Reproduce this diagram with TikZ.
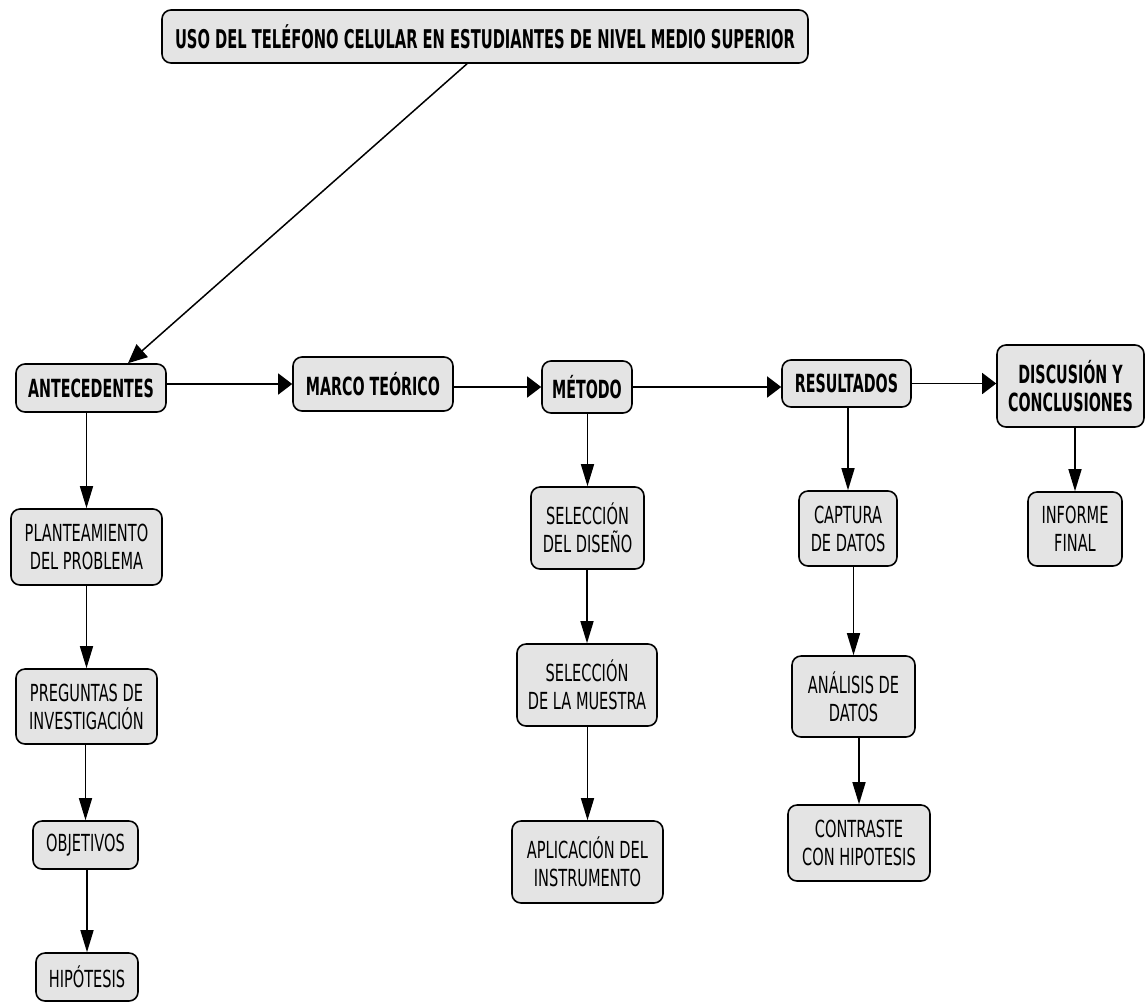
\documentclass[tikz,border=0pt]{standalone}
\usepackage{fontspec}
\setmainfont{DejaVu Sans}
\newfontfamily\regf{DejaVu Sans}[FakeStretch=0.62]
\newfontfamily\boldf{DejaVu Sans}[FakeStretch=0.57]
\usetikzlibrary{arrows.meta}
\definecolor{boxgray}{HTML}{E4E4E4}
\tikzset{
  box/.style={draw=black, line width=1.6pt, fill=boxgray, rounded corners=9pt,
    inner sep=0pt, align=center, text=black},
  reg/.style={box, font=\regf\fontsize{23.5}{28}\selectfont},
  bld/.style={box, font=\boldf\bfseries\fontsize{25}{28}\selectfont},
  conn/.style={line width=1.5pt, draw=black},
  varr/.style={conn, -{Triangle[length=22pt,width=13pt]}},
  harr/.style={conn, -{Triangle[length=14pt,width=21pt]}},
  darr/.style={conn, -{Triangle[length=19pt,width=17pt]}}
}
\begin{document}
\begin{tikzpicture}[x=1pt,y=-1pt]
\useasboundingbox[fill=white] (0,0) rectangle (1145,1005);

% top level
\node[bld, minimum width=646pt, minimum height=53pt, font=\boldf\bfseries\fontsize{25.8}{28}\selectfont] (title) at (485,36.5) {USO DEL TELÉFONO CELULAR EN ESTUDIANTES DE NIVEL MEDIO SUPERIOR};
\node[bld, minimum width=150pt, minimum height=48pt] (ant) at (91,388) {ANTECEDENTES};
\node[bld, minimum width=160pt, minimum height=54pt] (marco) at (373,384) {MARCO TEÓRICO};
\node[bld, minimum width=90pt, minimum height=52pt] (met) at (587,387) {MÉTODO};
\node[bld, minimum width=129pt, minimum height=47pt] (res) at (846.5,383.5) {RESULTADOS};
\node[bld, minimum width=147pt, minimum height=82pt] (disc) at (1070.5,386) {DISCUSIÓN Y\\CONCLUSIONES};

% antecedentes column
\node[reg, minimum width=151pt, minimum height=76pt] (plan) at (86.5,547) {PLANTEAMIENTO\\DEL PROBLEMA};
\node[reg, minimum width=141pt, minimum height=75pt] (preg) at (86.5,706.5) {PREGUNTAS DE\\INVESTIGACIÓN};
\node[reg, minimum width=105pt, minimum height=48pt] (obj) at (85.5,845) {OBJETIVOS};
\node[reg, minimum width=102pt, minimum height=48pt] (hip) at (87,977) {HIPÓTESIS};

% metodo column
\node[reg, minimum width=113pt, minimum height=82pt] (sd) at (587.5,528) {SELECCIÓN\\DEL DISEÑO};
\node[reg, minimum width=140pt, minimum height=82pt] (sm) at (587,685) {SELECCIÓN\\DE LA MUESTRA};
\node[reg, minimum width=151pt, minimum height=82pt] (ap) at (587.5,862) {APLICACIÓN DEL\\INSTRUMENTO};

% resultados column
\node[reg, minimum width=98pt, minimum height=75pt] (cap) at (848,528.5) {CAPTURA\\DE DATOS};
\node[reg, minimum width=123pt, minimum height=81pt] (an) at (853.5,696.5) {ANÁLISIS DE\\DATOS};
\node[reg, minimum width=142pt, minimum height=76pt] (con) at (859,843) {CONTRASTE\\CON HIPOTESIS};

% discusion column
\node[reg, minimum width=94pt, minimum height=74pt] (inf) at (1075,529) {INFORME\\FINAL};

% connectors
\draw[darr] ([xshift=-18pt]title.south) -- ([xshift=37pt]ant.north);
\draw[harr] (ant.east |- marco.west) -- (marco.west);
\draw[harr] (marco.east |- met.west) -- (met.west);
\draw[harr] (met.east) -- (res.west |- met.east);
\draw[harr] (res.east) -- (disc.west |- res.east);

\draw[varr] (plan.north |- ant.south) -- (plan.north);
\draw[varr] (plan.south) -- (preg.north);
\draw[varr] (obj.north |- preg.south) -- (obj.north);
\draw[varr] (hip.north |- obj.south) -- (hip.north);

\draw[varr] (sd.north |- met.south) -- (sd.north);
\draw[varr] (sm.north |- sd.south) -- (sm.north);
\draw[varr] (ap.north |- sm.south) -- (ap.north);

\draw[varr] (cap.north |- res.south) -- (cap.north);
\draw[varr] (an.north |- cap.south) -- (an.north);
\draw[varr] (con.north |- an.south) -- (con.north);

\draw[varr] (inf.north |- disc.south) -- (inf.north);
\end{tikzpicture}
\end{document}
